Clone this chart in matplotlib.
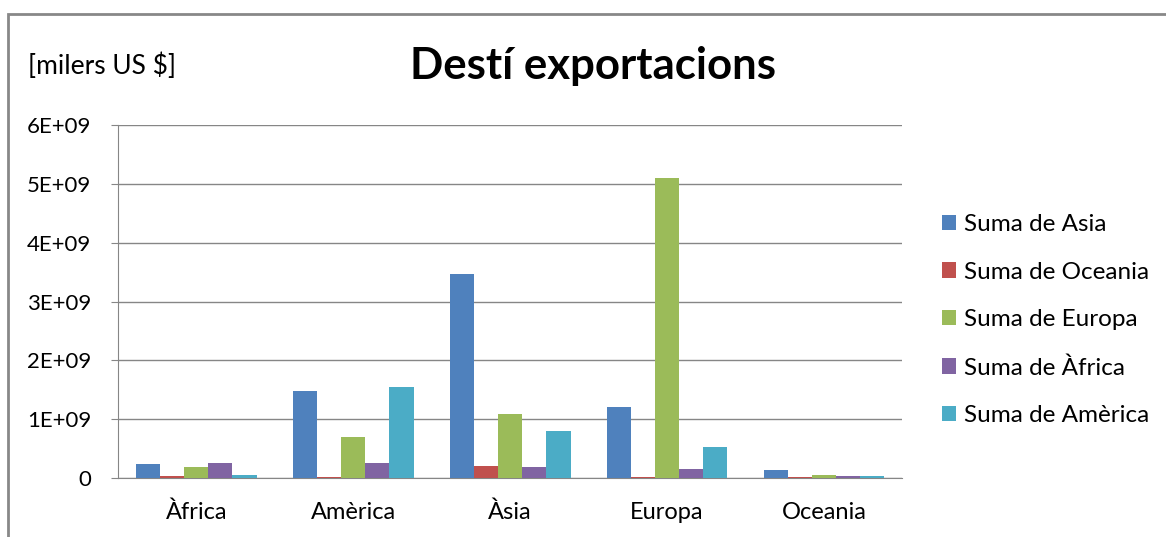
import matplotlib
matplotlib.use("Agg")
import matplotlib.pyplot as plt
import numpy as np
from matplotlib.patches import Rectangle

plt.rcParams['font.family'] = ['Lato', 'DejaVu Sans']

# categories (destination) and series
categories = ["Àfrica", "Amèrica", "Àsia", "Europa", "Oceania"]
series_names = ["Suma de Asia", "Suma de Oceania", "Suma de Europa",
                "Suma de Àfrica", "Suma de Amèrica"]
suma_asia = [0.23e9, 1.48e9, 3.47e9, 1.20e9, 0.14e9]
suma_oceania = [0.03e9, 0.02e9, 0.20e9, 0.02e9, 0.02e9]
suma_europa = [0.18e9, 0.70e9, 1.09e9, 5.10e9, 0.05e9]
suma_africa = [0.25e9, 0.25e9, 0.18e9, 0.16e9, 0.03e9]
suma_america = [0.05e9, 1.54e9, 0.79e9, 0.53e9, 0.03e9]
colors = ["#4F81BD", "#C0504D", "#9BBB59", "#8064A2", "#4BACC6"]
yticks = [0, 1e9, 2e9, 3e9, 4e9, 5e9, 6e9]
ylabels = ["0", "1E+09", "2E+09", "3E+09", "4E+09", "5E+09", "6E+09"]

data = [suma_asia, suma_oceania, suma_europa, suma_africa, suma_america]

fig = plt.figure(figsize=(11.66, 5.37), dpi=100)
ax = fig.add_axes([0.101, 0.110, 0.673, 0.657])

x = np.arange(len(categories))
w = 0.154
for i, vals in enumerate(data):
    ax.bar(x + (i - 2) * w, vals, w, color=colors[i], label=series_names[i], zorder=3)

ax.set_xlim(-0.5, len(categories) - 0.5)
ax.set_ylim(0, 6e9)
ax.set_yticks(yticks)
ax.set_yticklabels(ylabels, fontsize=16)
ax.set_xticks(x)
ax.set_xticklabels(categories, fontsize=17)
ax.yaxis.grid(True, color="#868686", linewidth=1, zorder=0)
for s in ["top", "right"]:
    ax.spines[s].set_visible(False)
for s in ["left", "bottom"]:
    ax.spines[s].set_color("#868686")
ax.tick_params(axis="y", length=5, color="#868686", pad=14)
ax.tick_params(axis="x", length=0, pad=17)

fig.text(0.509, 0.878, "Destí exportacions", fontsize=31.5, fontweight="bold",
         ha="center", va="center")
fig.text(0.024, 0.878, "[milers US $]", fontsize=19, ha="left", va="center")

leg = fig.legend(loc="center left", bbox_to_anchor=(0.789, 0.404), frameon=False,
                 fontsize=17.5, handlelength=0.6, handleheight=0.6,
                 handletextpad=0.3, labelspacing=1.1)

fig.patches.append(Rectangle((8 / 1166, -0.1), 1.2, 0.1 + (537 - 13.5) / 537,
                             transform=fig.transFigure, fill=False,
                             edgecolor="#888888", linewidth=2))

fig.savefig("out.png", dpi=100)
